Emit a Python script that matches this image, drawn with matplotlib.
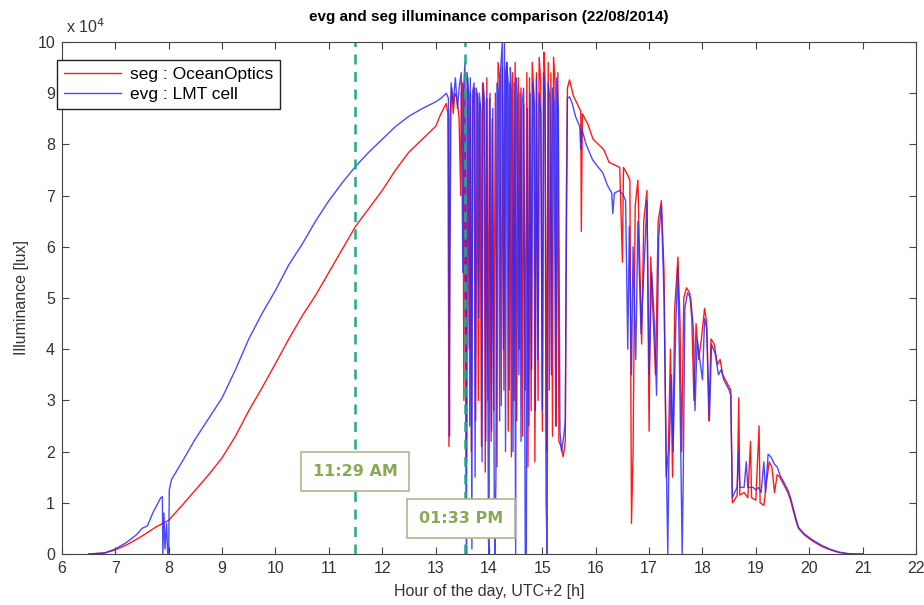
import matplotlib
matplotlib.use('Agg')
import matplotlib.pyplot as plt

# values, illuminance in units of 10^4 lux
seg_hours = [
    6.50, 6.80, 7.00, 7.25, 7.50, 7.75, 8.00, 8.25, 8.50, 8.75, 9.00, 9.25, 9.50, 9.75,
    10.00, 10.25, 10.50, 10.75, 11.00, 11.25, 11.50, 11.75, 12.00, 12.25, 12.50, 12.75,
    13.00, 13.10, 13.20,
    13.23, 13.25, 13.27, 13.30, 13.33, 13.36, 13.40, 13.44, 13.47, 13.48, 13.51, 13.53,
    13.55, 13.58, 13.60, 13.63, 13.65, 13.67, 13.70, 13.73, 13.75, 13.78, 13.80, 13.83,
    13.86, 13.88, 13.91, 13.93, 13.96, 13.98, 14.01, 14.04, 14.06, 14.09, 14.12, 14.15,
    14.17, 14.20, 14.23, 14.25, 14.28, 14.31, 14.34, 14.36, 14.39, 14.42, 14.44, 14.47,
    14.49, 14.52, 14.55, 14.57, 14.60, 14.63, 14.65, 14.68, 14.71, 14.73, 14.76, 14.79,
    14.81, 14.84, 14.86, 14.89, 14.92, 14.94, 14.97, 15.00, 15.03, 15.05, 15.08, 15.11,
    15.13, 15.16, 15.19, 15.21, 15.24, 15.26, 15.29, 15.31, 15.35, 15.39, 15.43, 15.45,
    15.47, 15.51, 15.58, 15.65, 15.72, 15.73, 15.75, 15.85, 15.95, 16.05, 16.15, 16.25,
    16.35, 16.45, 16.50, 16.52, 16.60, 16.64, 16.67, 16.70, 16.74, 16.79, 16.83, 16.86,
    16.90, 16.96, 17.00, 17.03, 17.08, 17.12, 17.17, 17.23, 17.28, 17.32, 17.36, 17.40,
    17.44, 17.48, 17.54, 17.58, 17.61, 17.65, 17.70, 17.76, 17.80, 17.84, 17.88, 17.93,
    17.98, 18.04, 18.08, 18.12, 18.16, 18.22, 18.28, 18.33, 18.38, 18.43, 18.48, 18.53,
    18.56, 18.60, 18.65, 18.68, 18.70, 18.78, 18.85, 18.90, 18.92, 19.00, 19.06, 19.08,
    19.15, 19.20, 19.25, 19.30, 19.35, 19.40, 19.45, 19.50, 19.55, 19.60, 19.65, 19.70,
    19.75, 19.80, 19.90, 20.00, 20.10, 20.25, 20.40, 20.55, 20.70, 20.85, 21.00,
]
seg_lux = [
    0.00, 0.02, 0.08, 0.20, 0.35, 0.52, 0.66, 0.95, 1.25, 1.55, 1.88, 2.30, 2.80, 3.25,
    3.72, 4.20, 4.65, 5.05, 5.50, 5.95, 6.40, 6.75, 7.10, 7.50, 7.85, 8.10,
    8.35, 8.60, 8.80,
    8.60, 2.10, 8.50, 9.10, 8.60, 9.00, 8.90, 8.50, 7.00, 9.00, 9.20, 3.00,
    9.00, 1.80, 9.30, 4.00, 9.00, 2.00, 8.80, 9.10, 2.60, 9.00, 3.00, 8.80,
    2.10, 9.20, 8.60, 1.60, 9.30, 3.00, 8.90, 2.20, 8.50, 2.80, 9.00, 1.70,
    9.60, 9.30, 2.90, 9.50, 3.20, 9.40, 9.60, 2.40, 9.20, 1.90, 9.40, 3.00,
    9.60, 2.60, 9.30, 4.00, 9.10, 2.30, 8.80, 3.20, 9.40, 1.70, 9.30, 2.80,
    9.60, 9.00, 1.80, 9.40, 3.00, 9.70, 9.20, 2.40, 9.80, 9.30, 2.00, 9.60,
    3.20, 9.40, 2.30, 9.70, 9.20, 2.50, 9.40, 2.20, 2.10, 1.90, 2.20, 7.00,
    9.10, 9.26, 8.95, 8.80, 8.65, 6.30, 8.60, 8.40, 8.10, 8.00, 7.90, 7.65,
    7.60, 7.55, 5.70, 7.55, 7.40, 7.30, 0.60, 2.00, 6.80, 7.30, 5.50, 4.10,
    6.50, 7.10, 2.40, 5.80, 4.50, 3.50, 6.50, 6.90, 5.50, 1.50, 2.00, 4.00,
    1.50, 4.80, 5.80, 4.50, 2.00, 5.00, 5.20, 5.10, 4.60, 3.00, 4.50, 3.80,
    4.20, 4.80, 4.50, 2.60, 4.20, 4.10, 3.70, 3.80, 3.50, 3.40, 3.30, 3.20,
    1.00, 1.05, 1.15, 3.05, 1.15, 1.20, 1.10, 2.20, 1.10, 1.05, 2.50, 1.00,
    0.95, 1.40, 1.80, 1.70, 1.20, 1.55, 1.50, 1.40, 1.30, 1.20, 1.05, 0.85,
    0.65, 0.50, 0.38, 0.30, 0.23, 0.14, 0.08, 0.03, 0.01, 0.00, 0.00,
]

evg_hours = [
    6.50, 6.80, 7.00, 7.20, 7.40, 7.50, 7.60, 7.70, 7.85, 7.88, 7.89, 7.91, 7.93, 7.96,
    7.98, 8.00, 8.01, 8.05, 8.25, 8.50, 8.75, 9.00, 9.25, 9.50, 9.75, 10.00, 10.25,
    10.50, 10.75, 11.00, 11.25, 11.50, 11.75, 12.00, 12.25, 12.50, 12.75, 13.00, 13.10,
    13.20,
    13.24, 13.25, 13.26, 13.27, 13.29, 13.33, 13.37, 13.41, 13.44, 13.48, 13.51, 13.52,
    13.55, 13.57, 13.58, 13.59, 13.62, 13.64, 13.65, 13.68, 13.69, 13.72, 13.74, 13.76,
    13.79, 13.81, 13.82, 13.85, 13.87, 13.89, 13.92, 13.94, 13.96, 13.99, 14.00, 14.02,
    14.05, 14.07, 14.10, 14.11, 14.13, 14.15, 14.18, 14.20, 14.22, 14.25, 14.27, 14.29,
    14.31, 14.33, 14.36, 14.38, 14.40, 14.42, 14.45, 14.47, 14.50, 14.51, 14.53, 14.56,
    14.58, 14.60, 14.62, 14.65, 14.68, 14.70, 14.72, 14.75, 14.77, 14.80, 14.82, 14.85,
    14.87, 14.89, 14.92, 14.94, 14.97, 15.00, 15.02, 15.05, 15.07, 15.09, 15.11, 15.14,
    15.17, 15.19, 15.22, 15.25, 15.27, 15.30, 15.33, 15.36, 15.40, 15.43, 15.45, 15.47,
    15.51, 15.56, 15.62, 15.70, 15.72, 15.74, 15.82, 15.94, 16.05, 16.13, 16.22, 16.30,
    16.32, 16.35, 16.45, 16.52, 16.56, 16.60, 16.63, 16.67, 16.70, 16.75, 16.79, 16.85,
    16.90, 16.96, 17.00, 17.05, 17.10, 17.14, 17.18, 17.23, 17.28, 17.32, 17.35, 17.37,
    17.42, 17.45, 17.50, 17.54, 17.58, 17.62, 17.64, 17.67, 17.72, 17.78, 17.83, 17.86,
    17.90, 17.95, 18.00, 18.04, 18.08, 18.13, 18.17, 18.24, 18.30, 18.35, 18.40, 18.45,
    18.50, 18.53, 18.56, 18.60, 18.65, 18.68, 18.70, 18.78, 18.82, 18.85, 18.95, 19.00,
    19.05, 19.10, 19.15, 19.18, 19.23, 19.28, 19.35, 19.40, 19.45, 19.50, 19.55, 19.60,
    19.65, 19.70, 19.75, 19.80, 19.90, 20.00, 20.10, 20.25, 20.40, 20.55, 20.70, 20.85,
    21.00,
]
evg_lux = [
    0.00, 0.02, 0.10, 0.22, 0.38, 0.50, 0.55, 0.80, 1.10, 1.12, 0.00, 0.80, 0.10, 0.60,
    0.00, 0.10, 1.25, 1.45, 1.80, 2.25, 2.65, 3.05, 3.60, 4.20, 4.70, 5.15, 5.65,
    6.05, 6.50, 6.90, 7.25, 7.57, 7.85, 8.10, 8.35, 8.55, 8.70, 8.83, 8.90,
    9.00,
    8.90, 5.70, 2.30, 5.90, 9.20, 8.80, 9.30, 8.70, 9.10, 9.40, 5.50, 9.00,
    9.60, 1.00, 0.00, 9.40, 9.00, 2.50, 9.30, 0.10, 9.00, 9.20, 1.50, 9.10,
    8.90, 4.60, 9.00, 8.60, 1.80, 9.20, 8.80, 2.20, 8.90, 0.30, 0.00, 9.00,
    2.40, 8.70, 0.80, 0.00, 1.50, 9.20, 9.00, 2.60, 9.50, 10.00, 4.00, 10.00,
    2.00, 9.60, 9.20, 3.20, 9.50, 9.00, 2.00, 9.20, 0.00, 9.30, 8.90, 3.50,
    9.00, 2.20, 8.80, 9.10, 0.00, 0.00, 8.70, 2.50, 9.00, 3.60, 9.20, 8.80,
    2.80, 9.30, 3.80, 9.00, 8.60, 2.80, 9.40, 9.00, 1.00, 0.00, 9.20, 8.90,
    3.50, 9.10, 8.80, 2.50, 9.30, 8.70, 2.40, 2.00, 2.30, 2.60, 6.00, 8.90,
    8.93, 8.80, 8.55, 8.35, 7.90, 8.30, 8.00, 7.70, 7.55, 7.45, 7.20, 7.05,
    6.65, 7.05, 7.10, 7.00, 6.90, 4.00, 6.40, 3.50, 6.00, 3.80, 6.50, 4.30,
    5.50, 6.90, 3.50, 5.50, 4.50, 3.10, 6.20, 6.80, 5.00, 2.00, 0.00, 1.80,
    3.50, 2.00, 4.50, 5.60, 3.00, 0.00, 1.50, 4.80, 5.10, 5.00, 4.40, 2.80,
    4.20, 3.80, 3.40, 4.60, 4.40, 2.60, 4.10, 3.90, 3.50, 3.60, 3.40, 3.30,
    3.20, 3.10, 1.10, 1.20, 1.30, 2.00, 1.30, 1.30, 1.80, 1.30, 1.30, 1.25,
    1.30, 1.20, 1.80, 1.20, 1.95, 1.90, 1.75, 1.70, 1.55, 1.45, 1.35, 1.25,
    1.10, 0.90, 0.70, 0.52, 0.40, 0.32, 0.25, 0.16, 0.09, 0.04, 0.01, 0.00,
    0.00,
]

# solar noon / marker times
marker_hours = [11 + 29 / 60, 13 + 33 / 60]
marker_labels = ['11:29 AM', '01:33 PM']
label_pos = [(11.49, 1.62), (13.47, 0.70)]

plt.rcParams['font.family'] = ['Liberation Sans', 'DejaVu Sans']

fig = plt.figure(figsize=(9.24, 6.05), dpi=100)
ax = fig.add_axes([0.0671, 0.0843, 0.9242, 0.8463])

ax.plot(seg_hours, seg_lux, color='#ff1a1a', lw=1.0, label='seg : OceanOptics')
ax.plot(evg_hours, evg_lux, color='#2a2aff', lw=1.0, alpha=0.85, label='evg : LMT cell')

for h in marker_hours:
    ax.axvline(h, color='#22a98a', ls=(0, (4, 3)), lw=1.8)

for txt, (x, y) in zip(marker_labels, label_pos):
    ax.text(x, y, txt, ha='center', va='center', fontsize=11.5, fontweight='bold',
            family='DejaVu Sans', color='#8aa958',
            bbox=dict(boxstyle='square,pad=0.75', fc='white', ec='#a9bb86', lw=1.2))

ax.set_xlim(6, 22)
ax.set_ylim(0, 10)
ax.set_xticks(range(6, 23))
ax.set_yticks(range(0, 11))
ax.tick_params(direction='in', top=True, right=True, length=5, labelsize=11.5,
               labelcolor='#333333', color='#444444', pad=5)
for s in ax.spines.values():
    s.set_color('#444444')

ax.set_title('evg and seg illuminance comparison (22/08/2014)', fontsize=11,
             fontweight='bold', pad=15)
ax.set_xlabel('Hour of the day, UTC+2 [h]', fontsize=11.5, color='#333333', labelpad=6)
ax.set_ylabel('Illuminance [lux]', fontsize=11.5, color='#333333', labelpad=6)
ax.text(0.005, 1.012, r'x 10$^4$', transform=ax.transAxes, fontsize=11.5,
        color='#333333', va='bottom', ha='left')

leg = ax.legend(loc='upper left', bbox_to_anchor=(-0.006, 0.965), borderaxespad=0,
                fontsize=12.5, handlelength=3.3, handletextpad=0.5, labelspacing=0.3,
                borderpad=0.4, fancybox=False, framealpha=1, edgecolor='#222222')
leg.get_frame().set_linewidth(1.0)

fig.savefig('out.png', dpi=100)
